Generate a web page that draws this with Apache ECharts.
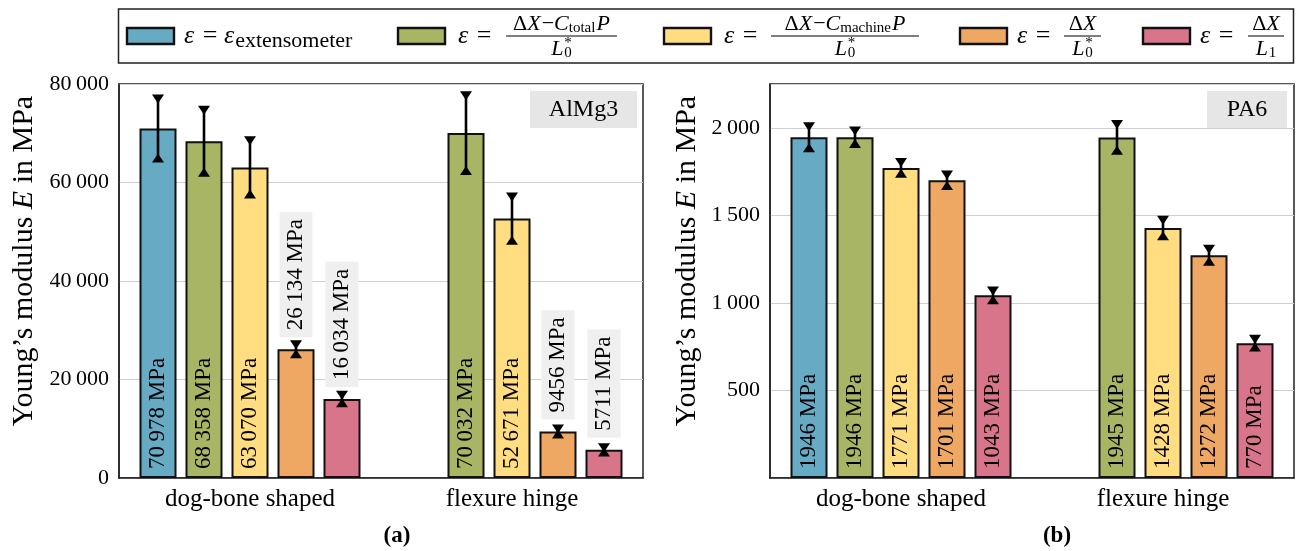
<!DOCTYPE html>
<html><head><meta charset="utf-8">
<script src="https://cdn.jsdelivr.net/npm/echarts@6/dist/echarts.min.js"></script>
<style>html,body{margin:0;padding:0;background:#fff}#c{width:1296px;height:551px}</style>
</head><body><div id="c"></div>
<script>
// ---------------- data ----------------
const categories = ['dog-bone shaped', 'flexure hinge'];
const seriesKeys = ['extensometer', 'total', 'machine', 'L0', 'L1'];
const colors = ['#66aac4', '#a8b564', '#ffdd80', '#eea864', '#d9758a'];

// AlMg3 (panel a)
const alExtensometer = [70978, null];
const alTotal        = [68358, 70032];
const alMachine      = [63070, 52671];
const alL0           = [26134, 9456];
const alL1           = [16034, 5711];
const alExtensometerErr = [6000, null];
const alTotalErr        = [6300, 7600];
const alMachineErr      = [5400, 4400];
const alL0Err           = [900, 500];
const alL1Err           = [750, 450];

// PA6 (panel b)
const paExtensometer = [1946, null];
const paTotal        = [1946, 1945];
const paMachine      = [1771, 1428];
const paL0           = [1701, 1272];
const paL1           = [1043, 770];
const paExtensometerErr = [60, null];
const paTotalErr        = [36, 74];
const paMachineErr      = [31, 44];
const paL0Err           = [30, 34];
const paL1Err           = [25, 22];

const alTicks = {min: 0, max: 80000, interval: 20000};
const paTicks = {min: 0, max: 2250, interval: 500};

// ---------------- style ----------------
const FONT = 'Liberation Serif';
const FS_TICK = 22, FS_LAB = 23, FS_CAT = 25, FS_TITLE = 30;
const BAR_W = 37, BAR_GAP = 9, BAR_STEP = BAR_W + BAR_GAP;
const PLOT_H = 394;

function groupThin(n) {
  return String(n).replace(/\B(?=(\d{3})+(?!\d))/g, '\u2009');
}
function labelText(v) {
  return (v >= 10000 ? groupThin(v) : String(v)) + ' MPa';
}

function barSeries(panel, values, idx, axisMax) {
  return {
    type: 'bar', xAxisIndex: panel, yAxisIndex: panel,
    barWidth: BAR_W, barGap: (BAR_GAP / BAR_W * 100).toFixed(2) + '%',
    itemStyle: {color: colors[idx], borderColor: '#111', borderWidth: 2},
    data: values.map(function (v) {
      if (v == null) return null;
      const txt = labelText(v);
      const barPx = v / axisMax * PLOT_H;
      const need = txt.length * 0.55 * FS_LAB + 25;
      const outside = barPx < need;
      const common = {show: true, rotate: 90, align: 'left', verticalAlign: 'middle',
        fontFamily: FONT, fontSize: FS_LAB, color: '#000', formatter: txt};
      return {value: v, label: outside ?
        Object.assign(common, {position: 'top', distance: 12, backgroundColor: '#efefef', padding: [5, 7, 5, 7]}) :
        Object.assign(common, {position: 'insideBottom', distance: 9})};
    }),
    z: 2
  };
}

function errRender(params, api) {
  const cat = api.value(0), s = api.value(1), v = api.value(2), e = api.value(3);
  const x = api.coord([cat, v])[0] + (s - 2) * BAR_STEP;
  const yt = api.coord([cat, v + e])[1];
  const yb = api.coord([cat, v - e])[1];
  const hw = 6, hh = 4.5;
  return {type: 'group', children: [
    {type: 'line', shape: {x1: x, y1: yt, x2: x, y2: yb}, style: {stroke: '#000', lineWidth: 2.6}},
    {type: 'polygon', shape: {points: [[x - hw, yt - hh], [x + hw, yt - hh], [x, yt + hh]]}, style: {fill: '#000'}},
    {type: 'polygon', shape: {points: [[x - hw, yb + hh], [x + hw, yb + hh], [x, yb - hh]]}, style: {fill: '#000'}}
  ]};
}
function errSeries(panel, valueSets, errSets) {
  const rows = [];
  valueSets.forEach(function (vals, s) {
    vals.forEach(function (v, c) {
      if (v != null) rows.push([c, s, v, errSets[s][c]]);
    });
  });
  return {type: 'custom', xAxisIndex: panel, yAxisIndex: panel, renderItem: errRender,
    data: rows, encode: {x: 0, y: 2}, z: 5, silent: true};
}

const alSets = [alExtensometer, alTotal, alMachine, alL0, alL1];
const alErrs = [alExtensometerErr, alTotalErr, alMachineErr, alL0Err, alL1Err];
const paSets = [paExtensometer, paTotal, paMachine, paL0, paL1];
const paErrs = [paExtensometerErr, paTotalErr, paMachineErr, paL0Err, paL1Err];

function yAxis(panel, ticks, gap, showMin) {
  return {
    type: 'value', gridIndex: panel, min: ticks.min, max: ticks.max, interval: ticks.interval,
    axisLine: {show: true, lineStyle: {color: '#222', width: 1.5}},
    axisTick: {show: false},
    splitLine: {show: true, lineStyle: {color: '#cfcfcf', width: 1}},
    axisLabel: {fontFamily: FONT, fontSize: FS_TICK, color: '#000', margin: 10,
      showMinLabel: showMin, showMaxLabel: ticks.max % ticks.interval === 0,
      formatter: function (v) { return groupThin(v); }},
    name: '{r|Young\u2019s modulus }{i|E}{r| in MPa}',
    nameLocation: 'middle', nameGap: gap, nameRotate: 90,
    nameTextStyle: {fontFamily: FONT, fontSize: FS_TITLE, color: '#000', padding: [0, 0, 0, 40],
      rich: {r: {fontFamily: FONT, fontSize: FS_TITLE, color: '#000'},
             i: {fontFamily: FONT, fontSize: FS_TITLE, color: '#000', fontStyle: 'italic'}}}
  };
}
function xAxis(panel) {
  return {
    type: 'category', gridIndex: panel, data: categories,
    axisLine: {show: true, lineStyle: {color: '#222', width: 1.5}},
    axisTick: {show: false},
    axisLabel: {fontFamily: FONT, fontSize: FS_CAT, color: '#000', margin: 9}
  };
}

// ---------------- legend (math text via graphic) ----------------
const measureCtx = document.createElement('canvas').getContext('2d');
function fontStr(size, italic, bold) {
  return (italic ? 'italic ' : '') + (bold ? 'bold ' : '') + size + 'px "' + FONT + '"';
}
function runWidth(r) {
  measureCtx.font = fontStr(r.size, r.it);
  let w = measureCtx.measureText(r.t).width;
  if (r.sup) { measureCtx.font = fontStr(r.size, false); w = Math.max(w, measureCtx.measureText(r.sup).width); }
  return w + (r.pad || 0);
}
function seqWidth(runs) { return runs.reduce(function (a, r) { return a + runWidth(r); }, 0); }
function layoutRuns(runs, x, y, els) {
  runs.forEach(function (r) {
    els.push({type: 'text', x: x, y: y + (r.dy || 0), style: {text: r.t, font: fontStr(r.size, r.it),
      fill: '#000', textAlign: 'left', textVerticalAlign: 'middle'}, z: 20});
    if (r.sup) {
      els.push({type: 'text', x: x, y: y + r.supDy, style: {text: r.sup, font: fontStr(r.size, false),
        fill: '#000', textAlign: 'left', textVerticalAlign: 'middle'}, z: 20});
    }
    x += runWidth(r);
  });
  return x;
}
const BIG = 26, BIGSUB = 22, FR = 22, FRSUB = 15;
function T(t, size, o) { return Object.assign({t: t, size: size}, o || {}); }
function TI(t, size, o) { return Object.assign({t: t, size: size, it: true}, o || {}); }

const numTotal   = [T('\u0394', FR), TI('X', FR, {pad: 1}), T('\u2212', FR), TI('C', FR), T('total', FRSUB, {dy: 4, pad: 1}), TI('P', FR)];
const numMachine = [T('\u0394', FR), TI('X', FR, {pad: 1}), T('\u2212', FR), TI('C', FR), T('machine', FRSUB, {dy: 4, pad: 1}), TI('P', FR)];
const numDX      = [T('\u0394', FR), TI('X', FR)];
const denL0      = [TI('L', FR, {pad: 1}), T('0', FRSUB, {dy: 4, sup: '*', supDy: -6})];
const denL1      = [TI('L', FR, {pad: 1}), T('1', FRSUB, {dy: 4})];
const epsEq      = [TI('\u03b5', BIG, {pad: 2}), T(' = ', BIG)];

const legendItems = [
  {icon: 127, eqX: 184},
  {icon: 398, eqX: 458, fx: 506, fw: 111, num: numTotal, den: denL0},
  {icon: 664, eqX: 724, fx: 771, fw: 148, num: numMachine, den: denL0},
  {icon: 960, eqX: 1017, fx: 1064, fw: 37, num: numDX, den: denL0},
  {icon: 1143, eqX: 1200, fx: 1248, fw: 36, num: numDX, den: denL1}
];

function buildLegend() {
  const els = [];
  const CY = 36;
  els.push({type: 'rect', shape: {x: 118.5, y: 9, width: 1175, height: 54},
    style: {fill: '#fff', stroke: '#222', lineWidth: 1.5}, z: 10});
  legendItems.forEach(function (it, i) {
    els.push({type: 'rect', shape: {x: it.icon, y: CY - 8, width: 47, height: 16},
      style: {fill: colors[i], stroke: '#111', lineWidth: 2.4}, z: 20});
    const x = layoutRuns(epsEq, it.eqX, CY, els);
    if (!it.num) {
      layoutRuns([TI('\u03b5', BIG, {pad: 1}), T('extensometer', BIGSUB, {dy: 5})], x, CY, els);
    } else {
      const wn = seqWidth(it.num), wd = seqWidth(it.den);
      const cx = it.fx + it.fw / 2;
      layoutRuns(it.num, cx - wn / 2, CY - 12, els);
      els.push({type: 'line', shape: {x1: it.fx, y1: CY, x2: it.fx + it.fw, y2: CY},
        style: {stroke: '#000', lineWidth: 1}, z: 20});
      layoutRuns(it.den, cx - wd / 2, CY + 13, els);
    }
  });
  // material tags
  els.push({type: 'rect', shape: {x: 530, y: 91, width: 107, height: 37}, style: {fill: '#e6e6e6'}, z: 10});
  els.push({type: 'text', x: 583.5, y: 110, style: {text: 'AlMg3', font: fontStr(24), fill: '#000',
    textAlign: 'center', textVerticalAlign: 'middle'}, z: 11});
  els.push({type: 'rect', shape: {x: 1207, y: 91, width: 80, height: 37}, style: {fill: '#e6e6e6'}, z: 10});
  els.push({type: 'text', x: 1247, y: 110, style: {text: 'PA6', font: fontStr(24), fill: '#000',
    textAlign: 'center', textVerticalAlign: 'middle'}, z: 11});
  // captions
  els.push({type: 'text', x: 397, y: 536, style: {text: '(a)', font: fontStr(23, false, true), fill: '#000',
    textAlign: 'center', textVerticalAlign: 'middle'}, z: 11});
  els.push({type: 'text', x: 1057, y: 536, style: {text: '(b)', font: fontStr(23, false, true), fill: '#000',
    textAlign: 'center', textVerticalAlign: 'middle'}, z: 11});
  return els;
}

// ---------------- chart ----------------
const chart = echarts.init(document.getElementById('c'), null, {renderer: 'canvas'});
const series = [];
alSets.forEach(function (vals, i) { series.push(Object.assign(barSeries(0, vals, i, alTicks.max), {name: seriesKeys[i]})); });
paSets.forEach(function (vals, i) { series.push(Object.assign(barSeries(1, vals, i, paTicks.max), {name: seriesKeys[i]})); });
series.push(errSeries(0, alSets, alErrs));
series.push(errSeries(1, paSets, paErrs));

chart.setOption({
  animation: false,
  backgroundColor: '#fff',
  textStyle: {fontFamily: FONT},
  grid: [
    {left: 119, top: 84, width: 524, height: PLOT_H, show: true, borderColor: '#222', borderWidth: 1.5, backgroundColor: 'transparent'},
    {left: 770, top: 84, width: 524, height: PLOT_H, show: true, borderColor: '#222', borderWidth: 1.5, backgroundColor: 'transparent'}
  ],
  xAxis: [xAxis(0), xAxis(1)],
  yAxis: [yAxis(0, alTicks, 80, true), yAxis(1, paTicks, 68, false)],
  series: series,
  graphic: buildLegend()
});
</script>
</body></html>
